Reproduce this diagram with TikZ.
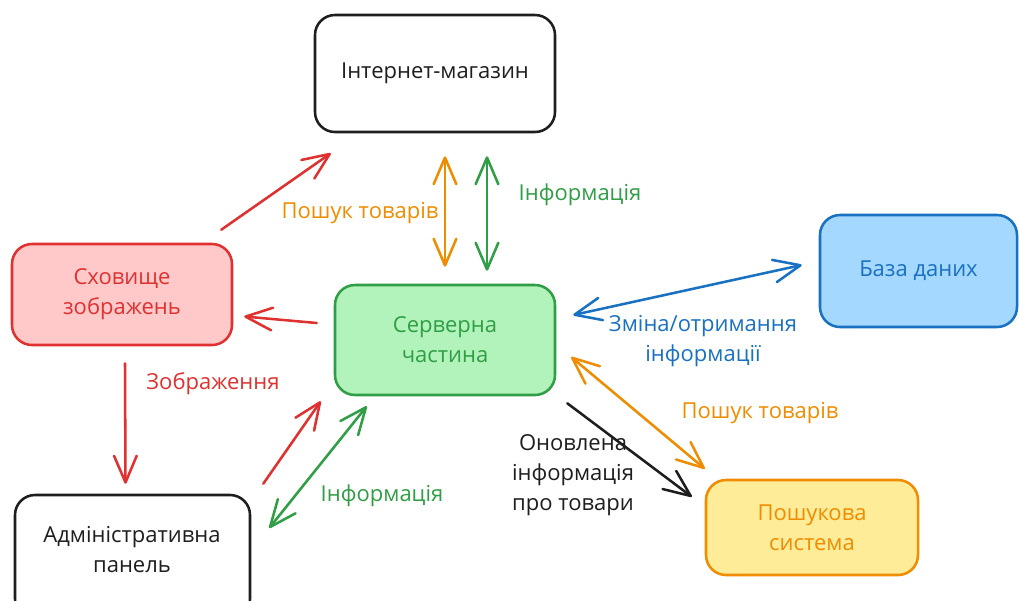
\documentclass[tikz,border=0pt]{standalone}
\usepackage{fontspec}
\setmainfont{Open Sans}
\usetikzlibrary{arrows.meta,calc}
\definecolor{cblack}{HTML}{1E1E1E}
\definecolor{cred}{HTML}{E03131}
\definecolor{cgreen}{HTML}{2F9E44}
\definecolor{cblue}{HTML}{1971C2}
\definecolor{corange}{HTML}{F08C00}
\definecolor{fred}{HTML}{FFC9C9}
\definecolor{fgreen}{HTML}{B2F2BB}
\definecolor{fblue}{HTML}{A5D8FF}
\definecolor{fyellow}{HTML}{FFEC99}
\tikzset{
  boxnode/.style={draw, rounded corners=15pt, line width=1.9pt, align=center,
    font=\fontsize{16.5}{22.5}\selectfont},
  lbl/.style={align=center, font=\fontsize{16.5}{22.5}\selectfont, inner sep=0pt},
  conn/.style={line width=1.9pt, line cap=round,
    -{Straight Barb[length=20pt,width=17pt,line width=1.9pt,round]}},
  conn2/.style={line width=1.9pt, line cap=round,
    {Straight Barb[length=20pt,width=17pt,line width=1.9pt,round]}-{Straight Barb[length=20pt,width=17pt,line width=1.9pt,round]}},
}
\begin{document}
\begin{tikzpicture}[x=0.75pt,y=-0.75pt]
\useasboundingbox (0,0) rectangle (1019,600);
\clip (0,0) rectangle (1019,600);
\fill[white] (0,0) rectangle (1019,600);

% boxes
\node[boxnode, draw=cblack, fill=white, text=cblack, minimum width=180pt, minimum height=87.75pt] (shop) at (435,73.5) {Інтернет-магазин};
\node[boxnode, draw=cred, fill=fred, text=cred, minimum width=165pt, minimum height=75.75pt] (store) at (122,294.5) {Сховище\\зображень};
\node[boxnode, draw=cgreen, fill=fgreen, text=cgreen, minimum width=165pt, minimum height=82.5pt] (server) at (445,340) {Серверна\\частина};
\node[boxnode, draw=cblue, fill=fblue, text=cblue, minimum width=147.75pt, minimum height=84pt] (db) at (918.5,271) {База даних};
\node[boxnode, draw=cblack, fill=white, minimum width=176.25pt, minimum height=93pt] (admin) at (132.5,557) {};
\node[lbl, text=cblack] (admintxt) at (132,550) {Адміністративна\\панель};
\node[boxnode, draw=corange, fill=fyellow, text=corange, minimum width=159pt, minimum height=71.25pt] (search) at (812,527.5) {Пошукова\\система};

% connectors
\draw[conn, cred] ($(store.north east)+(-12,-13)$) -- ($(shop.south west)+(17,20)$);
\draw[conn2, corange] ($(shop.south)+(10,23)$) -- ($(server.north)+(0,-17)$);
\draw[conn2, cgreen] ($(shop.south)+(52,23)$) -- ($(server.north)+(42,-13)$);
\draw[conn, cred] ($(server.west)+(-17,-17)$) -- ($(store.east)+(11,22)$);
\draw[conn2, cblue] ($(server.east)+(17,-25)$) -- ($(db.west)+(-17,-6)$);
\draw[conn, cred] ($(store.south)+(3,17)$) -- ($(admin.north)+(-7,-10)$);
\draw[conn, cred] ($(admin.north east)+(12,-10)$) -- ($(server.south west)+(-13,5)$);
\draw[conn2, cgreen] ($(admin.east)+(18,-29)$) -- ($(server.south west)+(33,10)$);
\draw[conn, cblack] ($(server.south east)+(11,7)$) -- ($(search.north west)+(-13,18)$);
\draw[conn2, corange] ($(server.east)+(15,17)$) -- ($(search.north west)+(0,-10)$);

% labels
\node[lbl, text=corange] (l1) at (360,213) {Пошук товарів};
\node[lbl, text=cgreen] (l2) at (580,195) {Інформація};
\node[lbl, text=cblue] (l3) at (703,341) {Зміна/отримання\\інформації};
\node[lbl, text=cred] (l4) at (213,384) {Зображення};
\node[lbl, text=cgreen] (l5) at (382,496) {Інформація};
\node[lbl, text=cblack] (l6) at (573,475) {Оновлена\\інформація\\про товари};
\node[lbl, text=corange] (l7) at (760,413) {Пошук товарів};
\end{tikzpicture}
\end{document}
